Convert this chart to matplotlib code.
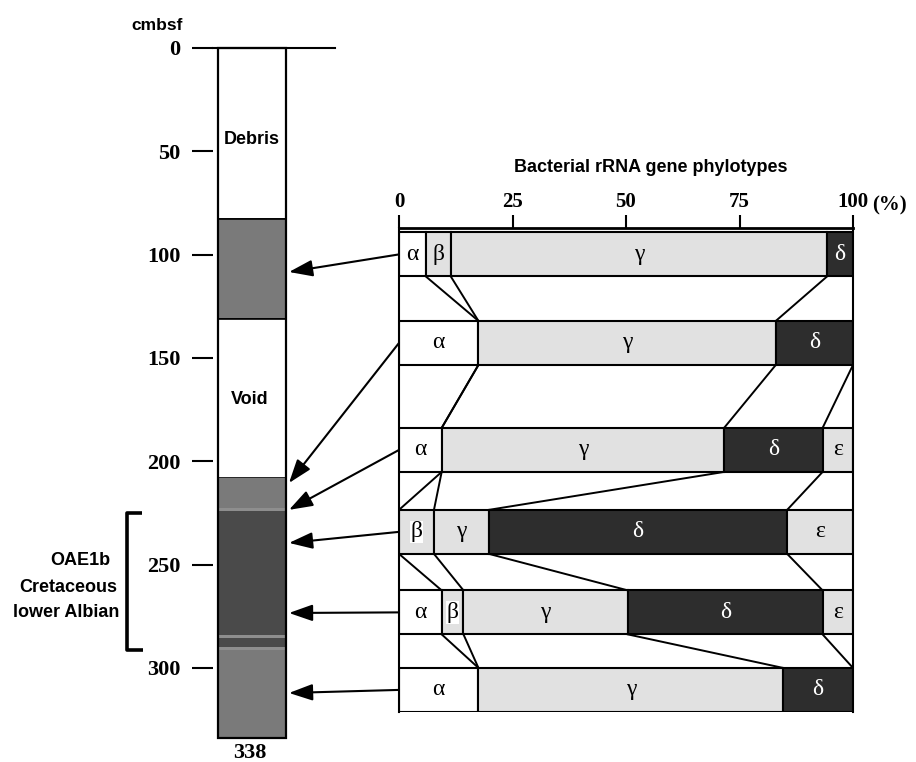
import matplotlib
matplotlib.use("Agg")
import matplotlib.pyplot as plt
from matplotlib.patches import Rectangle, ConnectionPatch, ArrowStyle

# core column (depth in cmbsf)
layer_top = [0, 82.7, 131, 208, 222.5, 224, 284, 285.3, 289.8, 291.2]
layer_bot = [82.7, 131, 208, 222.5, 224, 284, 285.3, 289.8, 291.2, 334]
layer_col = ['white', '#7a7a7a', 'white', '#7a7a7a', '#8e8e8e', '#4a4a4a',
             '#8e8e8e', '#4a4a4a', '#8e8e8e', '#7a7a7a']
layer_edge = [True, True, True, False, False, False, False, False, False, False]
depth_ticks = [0, 50, 100, 150, 200, 250, 300]
core_bottom_label = "338"
oae_top, oae_bot = 225, 291.5

# sampled depths (arrow targets), top to bottom
sample_depth = [108.4, 210.5, 223.5, 239.5, 273.4, 312.1]

# phylotype percentages per sample
groups = ['α', 'β', 'γ', 'δ', 'ε']
alpha = [5.9, 17.5, 9.4, 0, 9.4, 17.5]
beta = [5.5, 0, 0, 7.7, 4.8, 0]
gamma = [82.9, 65.5, 62.2, 12.1, 36.2, 67.1]
delta = [5.7, 17.0, 21.7, 65.7, 42.9, 15.4]
epsilon = [0, 0, 6.7, 14.5, 6.7, 0]
pct_ticks = [0, 25, 50, 75, 100]

fills = ['white', '#e1e1e1', '#e1e1e1', '#2d2d2d', '#e1e1e1']
txtcol = ['black', 'black', 'black', 'white', 'black']

serif = 'Liberation Serif'
sans = 'Liberation Sans'

fig = plt.figure(figsize=(9.16, 7.62), dpi=100)
W, H = 916.0, 762.0

# ---------------- core column ----------------
ax = fig.add_axes([213 / W, 0, 122 / W, 1])
ax.set_xlim(-0.0735, 1.7206)
ax.set_ylim(345.5, -23.2)
for s in ax.spines.values():
    s.set_visible(False)
ax.set_xticks([])
ax.set_yticks(depth_ticks)
ax.set_yticklabels([str(t) for t in depth_ticks], fontfamily=serif,
                   fontweight='bold', fontsize=16)
ax.tick_params(axis='y', length=15, width=1.5, pad=8.5)
ax.patch.set_alpha(0)

for t, b, c, e in zip(layer_top, layer_bot, layer_col, layer_edge):
    ax.add_patch(Rectangle((0, t), 1, b - t, facecolor=c,
                           edgecolor='black' if e else 'none', lw=1.2))
ax.add_patch(Rectangle((0, 0), 1, layer_bot[-1], facecolor='none',
                       edgecolor='black', lw=1.6))
ax.plot([-0.0735, 1.7206], [0, 0], color='black', lw=1.5, clip_on=False)

ax.text(0.5, 44.5, 'Debris', ha='center', va='center', fontfamily=sans,
        fontweight='bold', fontsize=13)
ax.text(0.46, 170, 'Void', ha='center', va='center', fontfamily=sans,
        fontweight='bold', fontsize=13)
ax.text(0.47, 341, core_bottom_label, ha='center', va='center',
        fontfamily=serif, fontweight='bold', fontsize=16)
ax.text(-0.9, -11.1, 'cmbsf', ha='center', va='center', fontfamily=sans,
        fontweight='bold', fontsize=12.5)

# OAE1b bracket
bx = -1.34
ax.plot([bx + 0.22, bx, bx, bx + 0.23], [oae_top, oae_top, oae_bot, oae_bot],
        color='black', lw=2.6, clip_on=False, solid_capstyle='butt')
ax.text(-2.03, 247.8, 'OAE1b', ha='center', va='center', fontfamily=sans,
        fontweight='bold', fontsize=13)
ax.text(-2.2, 261.3, 'Cretaceous', ha='center', va='center', fontfamily=sans,
        fontweight='bold', fontsize=13)
ax.text(-2.23, 273, 'lower Albian', ha='center', va='center', fontfamily=sans,
        fontweight='bold', fontsize=13)

# ---------------- stacked bars ----------------
bx_ax = fig.add_axes([399 / W, 1 - 712 / H, 454 / W, (712 - 228) / H])
row_y = [0, 1.006, 2.222, 3.153, 4.068, 4.949]
bh = 0.5
bx_ax.set_xlim(0, 100)
bx_ax.set_ylim(5.2, -0.3)
bx_ax.set_yticks([])
bx_ax.xaxis.tick_top()
bx_ax.set_xticks(pct_ticks)
bx_ax.set_xticklabels([str(t) for t in pct_ticks], fontfamily=serif,
                      fontweight='bold', fontsize=15)
bx_ax.tick_params(axis='x', length=9.5, width=1.5, pad=2)
bx_ax.spines['bottom'].set_visible(False)
bx_ax.spines['top'].set_linewidth(2)
bx_ax.spines['left'].set_linewidth(1.5)
bx_ax.spines['right'].set_linewidth(1.5)
bx_ax.annotate('(%)', xy=(100, 1), xycoords=('data', 'axes fraction'),
               xytext=(13.5, 16.5), textcoords='offset points', ha='left',
               va='center', fontfamily=serif, fontweight='bold', fontsize=15)
bx_ax.text(55.5, -0.99, 'Bacterial rRNA gene phylotypes', ha='center',
           va='center', fontfamily=sans, fontweight='bold', fontsize=13)

series = [alpha, beta, gamma, delta, epsilon]
cums = []
for i, y in enumerate(row_y):
    left = 0
    ends = []
    for k, vals in enumerate(series):
        v = vals[i]
        if v > 0:
            bx_ax.barh(y, v, left=left, height=bh, color=fills[k],
                       edgecolor='black', lw=1.5)
            kw = {}
            if k == 1 and i in (3, 4):
                kw['bbox'] = dict(facecolor='white', edgecolor='none', pad=0.5)
            bx_ax.text(left + v / 2, y, groups[k], ha='center', va='center',
                       fontfamily=serif, fontsize=17, color=txtcol[k], **kw)
        left += v
        ends.append(left)
    cums.append(ends)

# connecting lines between neighbouring samples
for i in range(len(row_y) - 1):
    for k in range(len(series)):
        bx_ax.plot([cums[i][k], cums[i + 1][k]],
                   [row_y[i] + bh / 2, row_y[i + 1] - bh / 2],
                   color='black', lw=1.4)

# arrows from each bar to its sampling depth
head = ArrowStyle('-|>', head_length=0.8, head_width=0.28)
for y, d in zip(row_y, sample_depth):
    con = ConnectionPatch(xyA=(0, y), coordsA=bx_ax.transData,
                          xyB=(1.044, d), coordsB=ax.transData,
                          arrowstyle=head, mutation_scale=18, color='black',
                          lw=1.5, shrinkA=0, shrinkB=0)
    fig.add_artist(con)

fig.savefig('out.png', dpi=100)
